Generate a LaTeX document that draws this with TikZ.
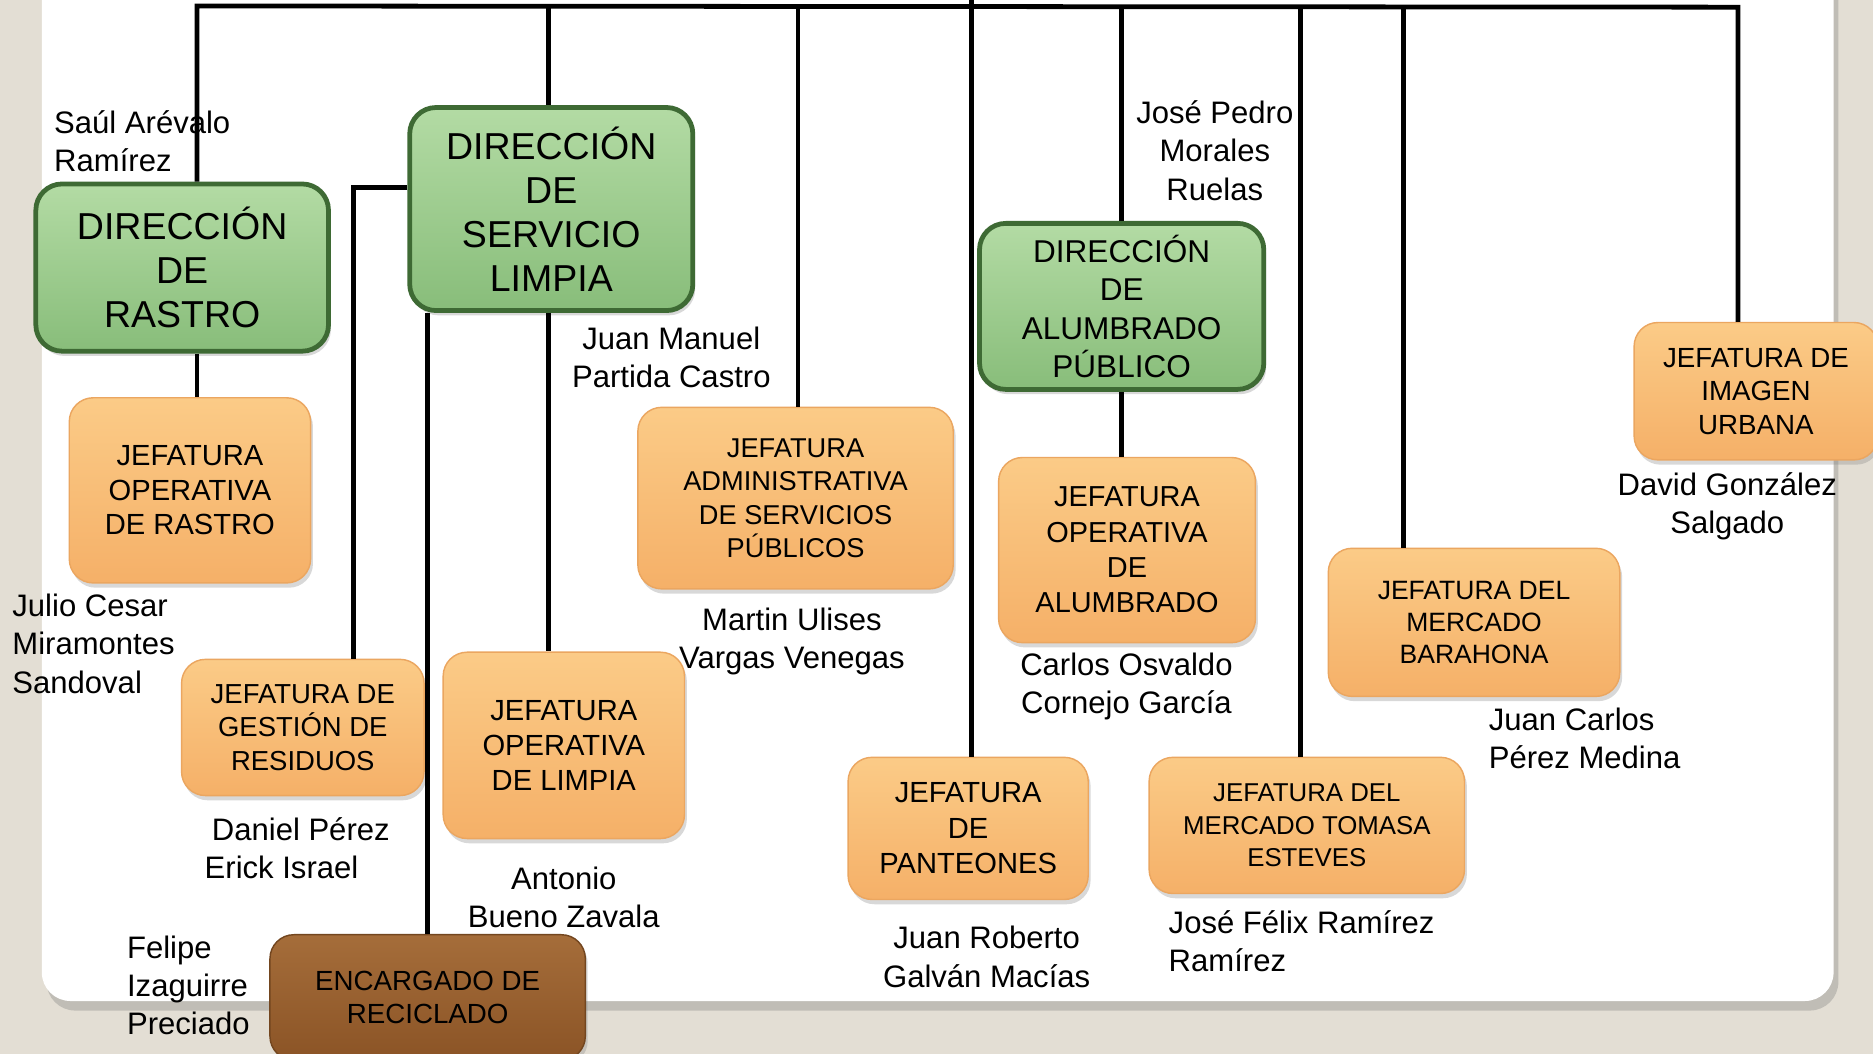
\documentclass[tikz,border=0pt]{standalone}
\usepackage{fontspec}
\setmainfont{Liberation Sans}
\usetikzlibrary{shadows}
\definecolor{bgbeige}{HTML}{E3DED4}
\definecolor{gfilltop}{HTML}{B3DBA4}
\definecolor{gfillbot}{HTML}{88BD7A}
\definecolor{gborder}{HTML}{3E6A34}
\definecolor{ofilltop}{HTML}{FBCB87}
\definecolor{ofillbot}{HTML}{F5B068}
\definecolor{oborder}{HTML}{EBA660}
\definecolor{bfilltop}{HTML}{A56D3A}
\definecolor{bfillbot}{HTML}{8B5426}
\definecolor{bborder}{HTML}{73461F}
\newcommand\fsz[2]{\fontsize{#1}{#2}\selectfont}
\begin{document}
\begin{tikzpicture}[x=0.5pt,y=-0.5pt,
  conn/.style={line width=2pt, black},
  gbox/.style={draw=gborder, line width=2pt, top color=gfilltop, bottom color=gfillbot,
    rounded corners=11pt, align=center, inner sep=0pt,
    drop shadow={opacity=0.3, shadow xshift=1pt, shadow yshift=-2pt}},
  obox/.style={draw=oborder, line width=0.6pt, top color=ofilltop, bottom color=ofillbot,
    rounded corners=10pt, align=center, inner sep=0pt,
    drop shadow={opacity=0.3, shadow xshift=1pt, shadow yshift=-2pt}},
  bbox/.style={draw=bborder, line width=0.6pt, top color=bfilltop, bottom color=bfillbot,
    rounded corners=10pt, align=center, inner sep=0pt,
    drop shadow={opacity=0.3, shadow xshift=1pt, shadow yshift=-2pt}},
  person/.style={inner sep=0pt, font=\fsz{13pt}{16pt}},
]
\clip (0,0) rectangle (1568,882);
\fill[bgbeige] (0,0) rectangle (1568,882);
\path[fill=white, rounded corners=12pt, drop shadow={opacity=0.35, shadow xshift=2pt, shadow yshift=-4pt}] (35,-40) rectangle (1535,838);

% green boxes
\node[gbox, minimum width=122.5pt, minimum height=70pt, font=\fsz{15.7pt}{18.5pt}] (rastro) at (152.5,224) {DIRECCIÓN\\DE\\RASTRO};
\node[gbox, minimum width=118.5pt, minimum height=85pt, font=\fsz{15.7pt}{18.5pt}] (limpia) at (461.5,175) {DIRECCIÓN\\DE\\SERVICIO\\LIMPIA};
\node[gbox, minimum width=119pt, minimum height=69.5pt, font=\fsz{13.2pt}{16pt}] (alumbrado) at (939,256.5) {DIRECCIÓN\\DE\\ALUMBRADO\\PÚBLICO};

% orange boxes
\node[obox, minimum width=101pt, minimum height=77.5pt, font=\fsz{12.2pt}{14.5pt}] (oprastro) at (159,410.5) {JEFATURA\\OPERATIVA\\DE RASTRO};
\node[obox, minimum width=101.5pt, minimum height=57pt, font=\fsz{11.5pt}{14pt}] (residuos) at (253.5,609) {JEFATURA DE\\GESTIÓN DE\\RESIDUOS};
\node[obox, minimum width=101pt, minimum height=78pt, font=\fsz{12.2pt}{14.5pt}] (oplimpia) at (472,624) {JEFATURA\\OPERATIVA\\DE LIMPIA};
\node[obox, minimum width=132pt, minimum height=76pt, font=\fsz{11.4pt}{14pt}] (admin) at (666,417) {JEFATURA\\ADMINISTRATIVA\\DE SERVICIOS\\PÚBLICOS};
\node[obox, minimum width=107.5pt, minimum height=77.5pt, font=\fsz{12.1pt}{14.8pt}] (opalumbrado) at (943.5,460.5) {JEFATURA\\OPERATIVA\\DE\\ALUMBRADO};
\node[obox, minimum width=100.5pt, minimum height=59.5pt, font=\fsz{12.2pt}{14.8pt}] (panteones) at (810.5,693.5) {JEFATURA\\DE\\PANTEONES};
\node[obox, minimum width=132pt, minimum height=57pt, font=\fsz{10.8pt}{13.5pt}] (tomasa) at (1094,691) {JEFATURA DEL\\MERCADO TOMASA\\ESTEVES};
\node[obox, minimum width=122pt, minimum height=62pt, font=\fsz{11.1pt}{13.5pt}] (barahona) at (1234,521) {JEFATURA DEL\\MERCADO\\BARAHONA};
\node[obox, minimum width=102pt, minimum height=57.5pt, font=\fsz{11.6pt}{14pt}] (imagen) at (1470,327.5) {JEFATURA DE\\IMAGEN\\URBANA};

% brown box
\node[bbox, minimum width=132pt, minimum height=52.5pt, font=\fsz{11.6pt}{13.5pt}, text depth=0pt] (reciclado) at (358,835) {ENCARGADO DE\\RECICLADO};

% people
\node[person, anchor=west, align=left] (saul) at (45,118) {Saúl Arévalo\\Ramírez};
\node[person, align=center] (juanm) at (562,299) {Juan Manuel\\Partida Castro};
\node[person, align=center] (josep) at (1017,126) {José Pedro\\Morales\\Ruelas};
\node[person, anchor=west, align=left] (julio) at (10,539) {Julio Cesar\\Miramontes\\Sandoval};
\node[person, align=center] (martin) at (663,537) {Martin Ulises\\Vargas Venegas};
\node[person, align=center] (carlos) at (943,575) {Carlos Osvaldo\\Cornejo García};
\node[person, align=center] (david) at (1446,424) {David González\\Salgado};
\node[person, anchor=west, align=left] (juanc) at (1246,618) {Juan Carlos\\Pérez Medina};
\node[person, anchor=west, align=left] (daniel) at (171,710) {\hspace*{3pt}Daniel Pérez\\Erick Israel};
\node[person, align=center] (antonio) at (472,751) {Antonio\\Bueno Zavala};
\node[person, anchor=west, align=left] (felipe) at (106,825) {Felipe\\Izaguirre\\Preciado};
\node[person, align=center] (juanr) at (826,801) {Juan Roberto\\Galván Macías};
\node[person, anchor=west, align=left] (josef) at (978,788) {José Félix Ramírez\\Ramírez};

% connectors
\coordinate (busL) at (165,5);
\coordinate (busR) at (1455,6);
\coordinate (root) at (813,-20);
\coordinate (busS) at (459,5);
\coordinate (busA) at (668,5);
\coordinate (busT) at (1089,5);
\coordinate (busB) at (1175,5);
\coordinate (rk) at (296,157);
\draw[conn] (busL |- rastro.north) -- (busL) -- (busR) -- (busR |- imagen.north);
\draw[conn] (busS) -- (busS |- limpia.north);
\draw[conn] (busA) -- (busA |- admin.north);
\draw[conn] (root) -- (root |- panteones.north);
\draw[conn] (alumbrado.north) -- (alumbrado.north |- busL);
\draw[conn] (busT) -- (busT |- tomasa.north);
\draw[conn] (busB) -- (busB |- barahona.north);
\draw[conn] (rastro.south -| busL) -- (oprastro.north -| busL);
\draw[conn] (rk -| limpia.west) -- (rk) -- (rk |- residuos.north);
\draw[conn] (reciclado.north) -- (reciclado.north |- limpia.south);
\draw[conn] (busS |- limpia.south) -- (busS |- oplimpia.north);
\draw[conn] (alumbrado.south) -- (alumbrado.south |- opalumbrado.north);
\end{tikzpicture}
\end{document}
